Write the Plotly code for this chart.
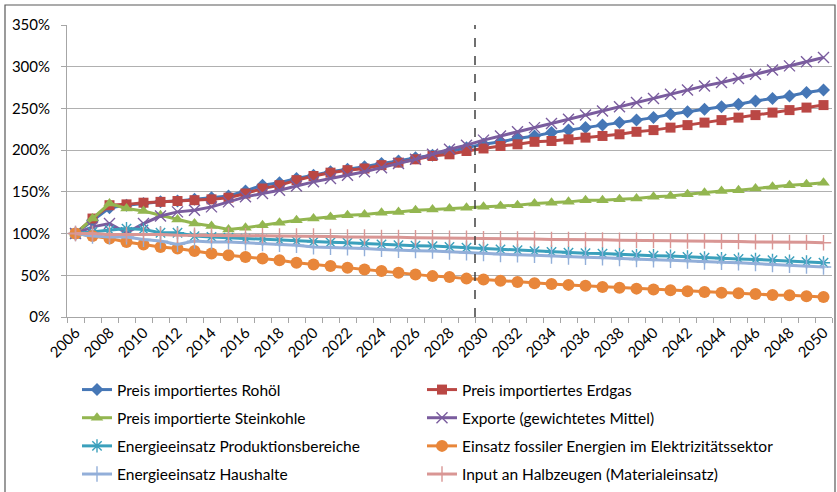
import plotly.graph_objects as go

years = list(range(2006, 2051))

rohoel = [100,116,131,134,136,138,139,141,143,145,151,
          158,161,166,170,174,177,180,184,187,191,194,198,203,
          207,210,214,217,221,224,227,230,233,236,239,243,246,249,252,255,259,262,265,269,272]
erdgas = [100,118,134,135,137,138,139,140,141,143,148,
          154,158,164,169,173,176,178,182,185,189,193,195,199,
          202,205,207,210,211,213,215,217,219,222,224,227,230,233,236,239,242,245,248,251,254]
steinkohle = [100,118,136,130,127,122,117,112,109,105,107,
              110,113,116,118,120,122,123,125,126,128,129,130,131,
              132,133,134,136,137,138,140,140,141,142,144,145,147,149,151,152,154,156,158,159,161]
exporte = [100,108,112,101,112,121,126,128,132,138,144,
           148,152,157,162,166,170,174,179,184,189,195,201,206,
           212,217,222,227,232,237,242,247,252,257,262,267,272,277,281,286,291,296,301,306,311]
produktion = [100,102,104,106,105,101,101,97,96,95,94,
              93,92,91,90,89.5,89,88,87,86,85.5,85,84,83,
              82,81,80,79,78,77,76.5,76,75,74,73.5,73,72,71,70,69.5,69,68,67,66,65]
elektrizitaet = [100,97,94,90,87,84,82,79,76,74,72,
                 70,68,65,63,61,59,57,55,53,51,49,48,46,
                 45,43.5,42,40.5,39.5,38.5,37.5,36,35,34,33,32,31,30,29,28.5,27.5,26.5,26,25,24]
haushalte = [100,97,96,96,93,91,87,91,90,90,89,
             88,87,86,84,83.5,83,82,81,80,79.5,79,78,77,
             76,75,74.5,74,73,72,71.5,71,70,69,68.5,68,67,66,65.5,65,64,63,62,61,60]
halbzeuge = [100,100,99,99,99,99,98,98,98,98,97.5,
             97.5,97,97,97,96.5,96,96,95.5,95.5,95,95,94.5,94.5,
             94,94,93.5,93.5,93,93,92.5,92.5,92,92,91.5,91.5,91,91,90.5,90.5,90,90,89.5,89.5,89]

names = [
    "Preis importiertes Rohöl",
    "Preis importiertes Erdgas",
    "Preis importierte Steinkohle",
    "Exporte (gewichtetes Mittel)",
    "Energieeinsatz Produktionsbereiche",
    "Einsatz fossiler Energien im Elektrizitätssektor",
    "Energieeinsatz Haushalte",
    "Input an Halbzeugen (Materialeinsatz)",
]
series = [rohoel, erdgas, steinkohle, exporte, produktion, elektrizitaet, haushalte, halbzeuge]
colors = ["#4677B6", "#BA4744", "#93B650", "#7A5C9E", "#3BA0BC", "#E8863A", "#93AFD9", "#D99694"]
symbols = ["diamond", "square", "triangle-up", "x-thin-open", "asterisk-open", "circle",
           "cross-thin-open", "cross-thin-open"]
msizes = [10, 10, 11, 11, 11, 12, 11, 11]

FONT = "Lato"
FS = 15.5

fig = go.Figure()
for k, (nm, ys) in enumerate(zip(names, series)):
    open_sym = symbols[k].endswith("open")
    fig.add_trace(go.Scatter(
        x=years, y=ys, name=nm, mode="lines+markers",
        line=dict(color=colors[k], width=3),
        marker=dict(symbol=symbols[k], size=msizes[k], color=colors[k],
                    line=dict(color=colors[k], width=1.4 if open_sym else 0)),
        legend="legend" if k % 2 == 0 else "legend2",
        legendgroup=f"g{k}",
    ))

fig.add_shape(type="line", xref="x", yref="paper", x0=2029.5, x1=2029.5, y0=0, y1=1,
              line=dict(color="#404040", width=1.5, dash="dash"))
# outer chart border
fig.add_shape(type="rect", xref="paper", yref="paper",
              x0=(5 - 67) / 765, x1=(835 - 67) / 765, y0=(317 - 500) / 292, y1=(317 - 5) / 292,
              line=dict(color="#595959", width=1.2), layer="below")

legend_common = dict(
    orientation="v", bgcolor="rgba(0,0,0,0)", borderwidth=0,
    font=dict(family=FONT, size=FS, color="#000000"),
    tracegroupgap=5, itemwidth=30, yanchor="top", xanchor="left",
    xref="container", yref="container",
)

fig.update_layout(
    width=837, height=492,
    margin=dict(l=67, r=5, t=25, b=175, autoexpand=False),
    paper_bgcolor="white", plot_bgcolor="white",
    font=dict(family=FONT, size=FS, color="#000000"),
    showlegend=True,
    legend=dict(x=77 / 837, y=1 - 373 / 492, **legend_common),
    legend2=dict(x=422 / 837, y=1 - 373 / 492, **legend_common),
    xaxis=dict(
        range=[2005.5, 2050.5], automargin=False,
        tickvals=years[::2], ticktext=[str(y) for y in years[::2]],
        tickangle=-45, ticks="", showgrid=False,
        showline=True, linecolor="#A6A6A6", linewidth=1,
        minor=dict(ticks="outside", tick0=2005.5, dtick=1, ticklen=5, tickcolor="#A6A6A6",
                   showgrid=False),
        tickfont=dict(family=FONT, size=FS - 0.5),
    ),
    yaxis=dict(
        range=[0, 350], dtick=50, ticksuffix="%", automargin=False,
        showgrid=True, gridcolor="#B0B0B0", gridwidth=1.2,
        showline=True, linecolor="#A6A6A6", linewidth=1,
        ticks="outside", ticklen=5, tickcolor="#A6A6A6", ticklabelstandoff=8,
        zeroline=False, tickfont=dict(family=FONT, size=FS - 0.5),
    ),
)

fig.write_html("out.html", config={"displayModeBar": False},
               post_script="document.body.style.margin='0';document.body.style.overflow='hidden';")
